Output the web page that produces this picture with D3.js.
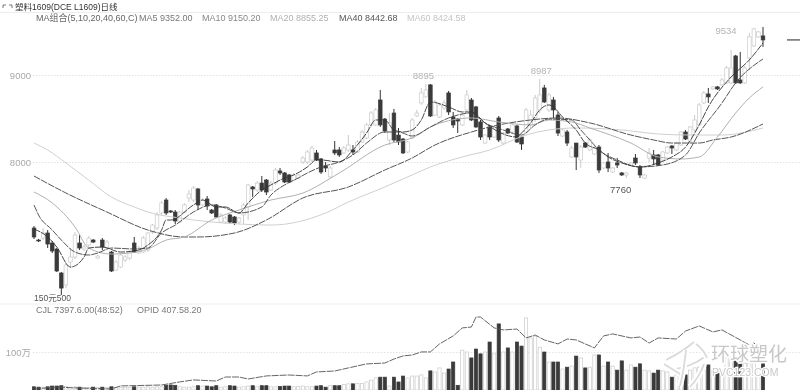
<!DOCTYPE html>
<html>
<head>
<meta charset="utf-8">
<script src="https://cdn.jsdelivr.net/npm/d3@7/dist/d3.min.js"></script>
<style>
  html, body { margin: 0; padding: 0; background: #fff; overflow: hidden; }
  svg { display: block; filter: blur(0.45px); }
  text { font-family: "Liberation Sans", "Noto Sans CJK SC", sans-serif; }
</style>
</head>
<body>
<div id="chart"></div>
<script>
// daily candles, index = trading day on the chart
const opens = [
  7241,7103,7126,7184,7069,7000,6724,6586,6850,6908,7069,7000,7046,7103,6896,7103,7011,6965,6758,6793,
  6873,6896,7069,6954,6965,6988,7195,7241,7414,7563,7437,7425,7310,7425,7586,7563,7690,7506,7575,7448,
  7506,7310,7310,7391,7368,7310,7391,7483,7713,7678,7758,7793,7678,7758,7897,7874,7851,7793,7816,8000,
  8000,8023,8104,8035,7954,7828,8138,8138,8104,8138,8138,8115,8230,8276,8426,8426,8713,8494,8253,8563,
  8310,8264,8115,8276,8529,8679,8748,8886,8540,8517,8621,8794,8517,8494,8426,8598,8713,8633,8460,8218,
  8403,8287,8506,8218,8380,8345,8414,8287,8345,8426,8506,8598,8851,8598,8713,8540,8299,8345,8058,8218,
  8023,8218,8138,8092,8172,7931,8000,7885,7989,7874,7851,7966,8046,7943,7816,8046,8081,8081,8023,8104,
  8184,8138,8195,8345,8230,8368,8426,8679,8782,8840,8863,8886,8909,8909,9219,8943,8909,9196,9334,9438,
  9449
];
const closes = [
  7138,7092,7184,7057,6977,6747,6551,6816,6908,7161,7011,7023,7126,7080,6919,7023,7080,6747,6850,6931,
  6908,6965,6965,7011,7126,7184,7275,7391,7529,7414,7425,7322,7425,7506,7632,7701,7506,7563,7494,7414,
  7368,7391,7356,7310,7299,7356,7506,7736,7690,7758,7678,7655,7758,7908,7874,7770,7770,7851,7851,8046,
  8115,8161,8023,7885,7931,7931,8104,8081,8161,8195,8115,8230,8345,8426,8563,8598,8426,8357,8449,8253,
  8230,8104,8230,8483,8563,8794,8828,8529,8690,8656,8679,8575,8426,8471,8540,8771,8483,8403,8287,8310,
  8287,8391,8253,8333,8333,8426,8230,8207,8598,8540,8736,8771,8690,8771,8598,8333,8368,8218,8161,8058,
  8172,8172,8253,8161,7908,7989,7931,7931,7966,7851,7874,7989,7989,7851,7851,8104,8035,7966,8115,8172,
  8161,8218,8345,8264,8403,8483,8656,8794,8748,8863,8840,8943,9081,9081,8909,8909,9081,9438,9530,9495,
  9403
];
const highs = [
  7264,7115,7241,7218,7092,7011,6735,6839,7011,7195,7172,7046,7149,7115,6931,7126,7103,6977,6873,6954,
  6931,6988,7138,7034,7149,7195,7287,7425,7552,7586,7448,7448,7437,7529,7678,7724,7701,7586,7609,7460,
  7517,7414,7379,7402,7379,7368,7529,7747,7724,7782,7839,7805,7782,7931,7931,7885,7862,7874,7862,8069,
  8138,8184,8138,8046,8000,7954,8241,8172,8184,8310,8195,8253,8368,8449,8586,8621,8828,8506,8563,8610,
  8391,8276,8241,8506,8598,8851,8897,8897,8713,8679,8713,8817,8575,8506,8563,8828,8736,8644,8483,8322,
  8426,8414,8529,8345,8391,8437,8426,8299,8621,8598,8771,8955,8886,8794,8748,8575,8380,8368,8184,8218,
  8195,8230,8276,8184,8195,8000,8104,7943,8046,7885,7885,8000,8092,7966,7862,8161,8138,8092,8127,8184,
  8195,8230,8357,8368,8414,8540,8679,8817,8851,8874,8874,8966,9104,9288,9231,9265,9104,9484,9541,9507,
  9552
];
const lows = [
  7115,7080,7103,7011,6954,6735,6471,6551,6781,6885,6988,6977,7023,7069,6885,6988,6988,6735,6747,6781,
  6850,6873,6954,6942,6954,6965,7172,7218,7391,7391,7414,7287,7299,7414,7540,7540,7448,7494,7448,7402,
  7356,7299,7287,7287,7275,7287,7287,7333,7597,7655,7655,7620,7666,7736,7851,7758,7758,7782,7805,7977,
  7977,8000,8012,7862,7885,7816,8081,8058,8092,8115,8081,8104,8218,8264,8403,8414,8403,8333,8195,8230,
  8195,8092,8104,8264,8517,8656,8736,8517,8529,8506,8598,8540,8391,8333,8414,8575,8471,8391,8253,8207,
  8253,8276,8230,8195,8322,8333,8218,8138,8333,8391,8460,8563,8679,8575,8506,8299,8287,8184,8046,7908,
  7931,8161,8127,8081,7874,7920,7885,7874,7931,7839,7816,7954,7966,7816,7805,8000,7966,7954,8012,8092,
  8092,8127,8184,8253,8218,8345,8414,8667,8679,8828,8828,8874,8897,8897,8897,8897,8897,9058,9323,9426,
  9323
];
// volume in 万手
const volumes = [
  6,5,5,6,8,8,9,7,5,6,5,4,4,5,4,5,4,6,4,5,
  4,4,6,5,5,6,5,6,6,10,11,10,6,5,5,6,9,8,8,6,
  9,5,6,9,8,5,6,8,9,6,9,9,6,6,7,8,8,6,7,8,
  6,6,8,9,5,9,9,9,12,14,14,15,15,19,24,30,32,32,8,32,
  19,35,30,35,35,38,30,49,46,57,43,54,73,10,105,100,84,108,95,100,
  127,95,176,100,111,100,127,116,192,138,143,113,100,73,73,73,54,59,62,89,
  84,57,59,92,92,62,73,62,51,76,51,65,59,68,51,49,43,51,49,46,
  32,38,59,38,51,57,59,51,65,51,46,51,84,84,81,76,70,70,70,57,
  73
];

// moving averages and open interest, read at the turning points of each line
const ma5Days = [0,3,5,8,11,12,15,19,23,25,28,29,30,35,37,40,42,45,47,50,52,55,57,60,62,63,67,70,73,75,77,79,81,83,85,87,91,94,96,99,102,106,107,109,111,113,114,116,119,121,124,126,129,133,137,140,143,146,148,153,157,160];
const ma5Vals = [7230,7138,7023,6793,6908,7011,7023,6965,6988,7046,7218,7333,7333,7506,7563,7483,7483,7414,7529,7678,7736,7816,7851,7943,8023,8023,8000,8138,8333,8483,8483,8368,8345,8368,8483,8690,8633,8575,8575,8449,8345,8287,8333,8449,8598,8656,8633,8517,8368,8218,8138,8058,7989,7943,7989,8058,8172,8426,8633,8977,9173,9368];
const ma10Days = [0,1,4,6,9,12,14,17,22,25,28,31,35,39,42,45,50,52,55,58,60,63,67,70,73,77,80,83,87,91,96,99,103,107,110,113,118,120,122,124,128,133,138,143,146,151,154,160];
const ma10Vals = [7506,7391,7218,7103,6965,6931,6954,7011,7000,7011,7184,7275,7425,7506,7471,7414,7483,7620,7736,7816,7874,7943,8000,8081,8218,8345,8345,8299,8403,8506,8563,8449,8368,8310,8426,8494,8483,8368,8253,8138,8023,7943,7966,8081,8333,8679,8909,9184];
const ma20Days = [0,4,9,12,17,21,25,29,33,39,45,52,59,67,77,83,88,96,102,109,113,118,122,131,137,142,146,150,154,157,160];
const ma20Vals = [7655,7529,7253,7011,6942,6954,7000,7103,7138,7333,7448,7563,7643,7874,8195,8276,8426,8506,8460,8426,8483,8460,8391,8218,8058,8035,8058,8287,8563,8736,8863];
const ma40Days = [0,7,16,25,33,36,44,51,59,69,77,83,88,96,102,109,115,122,131,136,140,146,149,153,160];
const ma40Vals = [7839,7644,7425,7218,7138,7138,7184,7333,7586,7713,7908,8046,8195,8345,8426,8483,8506,8449,8310,8253,8218,8218,8253,8287,8437];
const ma60Days = [0,3,7,12,17,22,25,32,45,52,64,69,77,83,87,94,100,108,113,119,129,137,144,151,160];
const ma60Vals = [8218,8138,7989,7793,7597,7483,7425,7356,7287,7275,7414,7540,7713,7851,7943,8058,8138,8310,8368,8391,8368,8322,8310,8310,8391];
const opiDays = [0,5,9,17,19,28,32,35,40,42,45,47,51,56,60,62,66,69,73,77,79,81,83,85,87,89,92,94,96,97,98,101,103,106,108,110,112,115,117,119,123,125,127,131,133,135,137,141,143,146,149,151,155,157,158,159];
const opiVals = [170,181,176,170,187,192,209,220,214,236,236,225,242,247,242,264,269,286,308,313,335,352,357,374,374,418,462,506,511,566,566,506,495,500,451,467,440,418,445,440,396,462,473,451,456,423,451,445,489,517,484,495,440,412,423,401];

const priceTicks = [8000, 9000];
const volTicks = [100];
const infoRow = ["MA组合(5,10,20,40,60,C)", "MA5 9352.00", "MA10 9150.20", "MA20 8855.25", "MA40 8442.68", "MA60 8424.58"];
const peakDays = [87, 112, 160];
const peakLabels = ["8895", "8987", "9534"];

const dim = { width: 800, height: 390, left: 34, right: 763, priceTop: 75, priceBottom: 162, volTop: 352, volBottom: 389 };

function setupScales() {
  const d3x = d3.scaleLinear().domain([0, closes.length - 1]).range([dim.left, dim.right]),
    d3y = d3.scaleLinear().domain([8000, 9000]).range([dim.priceBottom, dim.priceTop]),
    d3v = d3.scaleLinear().domain([0, 100]).range([dim.volBottom, dim.volTop]),
    d3o = d3.scaleLinear().domain([170, 570]).range([dim.volBottom, 316.3]);
  return { d3x, d3y, d3v, d3o };
}

function isDown(i) { return closes[i] < opens[i]; }

function drawAxes(svg, s) {
  const y_axis = svg.append("g").attr("class", "y-axis").attr("transform", "translate(33,0)")
    .call(d3.axisLeft(s.d3y).tickValues(priceTicks).tickSize(-767).tickPadding(2).tickFormat(d3.format("d")));
  const v_axis = svg.append("g").attr("class", "v-axis").attr("transform", "translate(33,0)")
    .call(d3.axisLeft(s.d3v).tickValues(volTicks).tickSize(-767).tickPadding(2).tickFormat(d => d + "万"));

  [y_axis, v_axis].forEach(a => {
    a.select(".domain").remove();
    a.selectAll("line").attr("stroke", "#e2e2e2").attr("stroke-dasharray", "1.5,1.5");
    a.selectAll("text").attr("fill", "#a8a8a8").style("font-size", "9.5px");
  });

  svg.selectAll("line.sep").data([12.5, 304]).enter().append("line").attr("class", "sep")
    .attr("x1", 0).attr("x2", dim.width).attr("y1", d => d).attr("y2", d => d)
    .attr("stroke", "#ededed");
}

function drawCandles(svg, s) {
  const days = d3.range(closes.length),
    node = svg.append("g").attr("class", "candles").selectAll("g").data(days).enter().append("g");

  node.append("line")
    .attr("x1", d => s.d3x(d)).attr("x2", d => s.d3x(d))
    .attr("y1", d => s.d3y(highs[d])).attr("y2", d => s.d3y(lows[d]))
    .attr("stroke", d => isDown(d) ? "#333" : "#cacaca");

  node.append("rect")
    .attr("x", d => s.d3x(d) - 1.8)
    .attr("width", 3.6)
    .attr("y", d => s.d3y(Math.max(opens[d], closes[d])))
    .attr("height", d => Math.max(0.6, Math.abs(s.d3y(opens[d]) - s.d3y(closes[d]))))
    .attr("fill", d => isDown(d) ? "#3a3a3a" : "#fff")
    .attr("stroke", d => isDown(d) ? "#3a3a3a" : "#cacaca")
    .attr("stroke-width", 0.7);
}

function drawVolumes(svg, s) {
  svg.append("g").attr("class", "volumes").selectAll("rect").data(volumes).enter().append("rect")
    .attr("x", (d, i) => s.d3x(i) - 1.6)
    .attr("width", 3.2)
    .attr("y", d => s.d3v(d))
    .attr("height", d => dim.volBottom + 1 - s.d3v(d))
    .attr("fill", (d, i) => isDown(i) ? "#3a3a3a" : "#fff")
    .attr("stroke", (d, i) => isDown(i) ? "#3a3a3a" : "#cacaca")
    .attr("stroke-width", 0.7);
}

function drawLine(svg, xs, ys, d3x, d3yy, color, width, curve, dash) {
  const line = d3.line().x(d => d3x(d)).y((d, i) => d3yy(ys[i])).curve(curve);
  svg.append("path").datum(xs).attr("d", line)
    .attr("fill", "none").attr("stroke", color).attr("stroke-width", width)
    .attr("stroke-dasharray", dash);
}

function drawTexts(svg, s) {
  const head = svg.append("g").attr("class", "head");

  head.append("path").attr("d", "M3 8V5H6M9 5H12V8").attr("fill", "none").attr("stroke", "#777");
  head.append("text").attr("x", 15).attr("y", 10).attr("fill", "#333").style("font-size", "8.5px")
    .text("塑料1609(DCE L1609)日线");

  const colors = ["#666", "#777", "#888", "#b0b0b0", "#555", "#c4c4c4"],
    xs = [36, 139, 202, 270, 339, 407];
  head.selectAll("text.info").data(infoRow).enter().append("text").attr("class", "info")
    .attr("x", (d, i) => xs[i]).attr("y", 21)
    .attr("fill", (d, i) => colors[i])
    .style("font-size", "9px")
    .text(d => d);

  const peakDx = [-7, -3, -37], peakDy = [-5, -11, 7];
  svg.selectAll("text.peak").data(peakDays).enter().append("text").attr("class", "peak")
    .attr("x", (d, i) => s.d3x(d) + peakDx[i]).attr("y", (d, i) => s.d3y(highs[d]) + peakDy[i])
    .attr("text-anchor", "middle")
    .attr("fill", "#b4b4b4").style("font-size", "9.5px")
    .text((d, i) => peakLabels[i]);

  svg.append("text").attr("x", s.d3x(126) + 2).attr("y", s.d3y(lows[133]) + 15)
    .attr("fill", "#555").style("font-size", "9.5px").text("7760");
  svg.append("text").attr("x", s.d3x(0)).attr("y", s.d3y(lows[6]) + 6)
    .attr("fill", "#555").style("font-size", "8.5px").text("150元500");

  svg.append("text").attr("x", 36).attr("y", 313).attr("fill", "#777").style("font-size", "9px")
    .text("CJL 7397.6.00(48:52)");
  svg.append("text").attr("x", 137).attr("y", 313).attr("fill", "#777").style("font-size", "9px")
    .text("OPID 407.58.20");

  // last price marker on the right edge
  svg.append("line").attr("x1", 787).attr("x2", dim.width)
    .attr("y1", s.d3y(closes[closes.length - 1])).attr("y2", s.d3y(closes[closes.length - 1]))
    .attr("stroke", "#222");
}

function drawWatermark(svg) {
  const g = svg.append("g").attr("class", "watermark");
  const arcs = ["M666 360 Q682 352 694 342", "M670 370 Q690 368 706 356", "M680 386 Q684 370 686 350",
    "M690 387 Q700 376 704 364", "M696 344 Q704 350 707 358", "M664 364 L680 374"];

  arcs.forEach(d => {
    g.append("path").attr("d", d).attr("fill", "none").attr("stroke", "#fff").attr("stroke-width", 6);
    g.append("path").attr("d", d).attr("fill", "none").attr("stroke", "#dadada").attr("stroke-width", 1.8);
  });

  g.append("text").attr("x", 711).attr("y", 361).attr("fill", "#c8c8c8")
    .attr("stroke", "#fff").attr("stroke-width", 3).attr("paint-order", "stroke")
    .style("font-size", "19px").text("环球塑化");
  g.append("text").attr("x", 712).attr("y", 376).attr("fill", "#c8c8c8")
    .attr("stroke", "#fff").attr("stroke-width", 2.5).attr("paint-order", "stroke")
    .style("font-size", "10.5px").text("PVC123.COM");
}

function draw() {
  const s = setupScales(),
    svg = d3.select("#chart").append("svg").attr("class", "chart")
      .attr("width", dim.width).attr("height", dim.height);

  drawAxes(svg, s);
  drawCandles(svg, s);
  drawVolumes(svg, s);

  const smooth = d3.curveMonotoneX;
  drawLine(svg, ma60Days, ma60Vals, s.d3x, s.d3y, "#cfcfcf", 1, smooth);
  drawLine(svg, ma40Days, ma40Vals, s.d3x, s.d3y, "#555", 1, smooth, "7,1");
  drawLine(svg, ma20Days, ma20Vals, s.d3x, s.d3y, "#b0b0b0", 1, smooth);
  drawLine(svg, ma10Days, ma10Vals, s.d3x, s.d3y, "#444", 0.9, smooth, "7,1");
  drawLine(svg, ma5Days, ma5Vals, s.d3x, s.d3y, "#333", 0.9, smooth, "7,1");
  drawLine(svg, opiDays, opiVals, s.d3x, s.d3o, "#555", 0.9, d3.curveLinear, "7,1");

  drawTexts(svg, s);
  drawWatermark(svg);
}

draw();
</script>
</body>
</html>
